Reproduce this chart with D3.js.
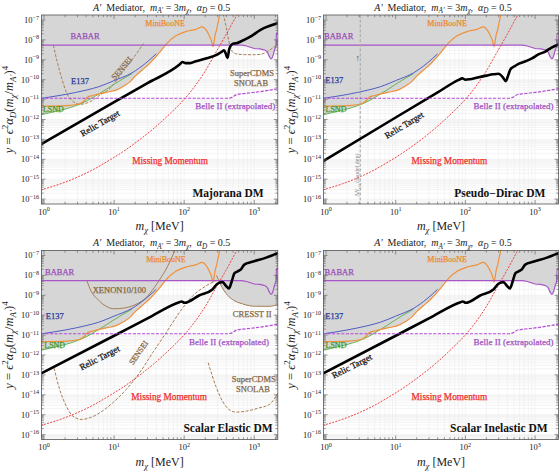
<!DOCTYPE html>
<html>
<head>
<meta charset="utf-8">
<script src="https://cdn.jsdelivr.net/npm/d3@7"></script>
<style>
  body { margin: 0; background: #fff; }
  svg { display: block; font-family: "Liberation Serif", "DejaVu Serif", serif; }
</style>
</head>
<body>
<script>
// ---- data (mass in MeV, y = eps^2 alpha_D (m_chi/m_A')^4) ----
const massTicks = [1, 10, 100, 1000];
const yTickPowers = [-7, -8, -9, -10, -11, -12, -13, -14, -15, -16];

const babar = [[0.9, 5.5e-9], [650, 5.5e-9], [800, 4.8e-9], [1000, 3.7e-9], [1200, 3.5e-9], [1400, 3.1e-9],
  [1550, 2.3e-9], [1650, 1.4e-9], [1750, 1.1e-9], [1850, 1.6e-9], [1950, 3.2e-9], [2050, 5.5e-9], [2070, 2.2e-8], [2300, 2.2e-8]];
const e137 = [[0.9, 1.15e-11], [2, 1.8e-11], [4, 3e-11], [6, 4.4e-11], [10, 9e-11], [18, 2.2e-10], [28, 6.6e-10], [40, 2e-9]];
const lsnd = [[0.9, 1.7e-12], [1.35, 2.4e-12], [2.1, 3.5e-12], [3.6, 6.9e-12], [6.2, 2e-11], [9.6, 5.4e-11], [15, 1.4e-10], [18, 2e-10]];
const miniboone = [[0.9, 4.7e-12], [2.1, 5.0e-12], [3.2, 6.0e-12], [3.8, 9e-12], [4.2, 1.35e-11], [5.0, 1.6e-11],
  [7.7, 2.3e-11], [10.7, 3.0e-11], [14, 5e-11], [17, 8e-11], [20, 1.5e-10], [25, 3e-10], [32, 6.5e-10], [44, 2.2e-9],
  [55, 6e-9], [76, 1.6e-8], [105, 2.6e-8], [146, 3.4e-8], [182, 4.5e-8], [205, 3.2e-8], [225, 1.8e-8], [245, 9e-9],
  [258, 4.6e-9], [265, 7e-9], [275, 1.6e-8], [292, 3.5e-8], [310, 1e-7], [330, 2.5e-7]];
const belle2 = [[0.9, 1.17e-11], [420, 1.17e-11], [480, 1.3e-11], [560, 1.8e-11], [700, 2.0e-11], [1000, 2.3e-11],
  [1500, 2.8e-11], [2200, 3.6e-11]];
const missingMomentum = [[0.9, 2.9e-16], [2, 7.1e-16], [3.16, 1.38e-15], [5, 3.0e-15], [7.9, 7.6e-15], [12.6, 2.1e-14],
  [23.4, 1e-13], [40, 4.6e-13], [63, 2.0e-12], [98, 9.5e-12], [126, 2.7e-11], [158, 7.9e-11], [200, 2.75e-10],
  [286, 2.5e-9], [400, 1.95e-8], [566, 1.8e-7], [650, 4e-7]];

const relicMajorana = [[0.9, 5.6e-14], [10, 7.4e-12], [30, 6.7e-11], [85, 5.6e-10], [95, 7.8e-10], [105, 6.8e-10],
  [120, 6.8e-10], [140, 7.9e-10], [210, 1.18e-9], [290, 1.75e-9], [345, 2.55e-9], [370, 3.0e-9], [395, 1.9e-9],
  [415, 1.25e-9], [440, 3.5e-9], [470, 5.5e-9], [510, 6.6e-9], [560, 6.8e-9], [630, 8.1e-9], [880, 1.45e-8],
  [1230, 3.2e-8], [2200, 7e-8]];
const relicPseudoDirac = [[0.9, 7.9e-15], [10, 1.26e-12], [40, 2.3e-11], [80, 9.8e-11], [90, 1.17e-10], [100, 1e-10],
  [115, 1.05e-10], [150, 1.3e-10], [200, 1.6e-10], [250, 1.86e-10], [300, 2e-10], [340, 1.4e-10], [380, 8.5e-11],
  [410, 1.6e-10], [440, 3.2e-10], [480, 4.2e-10], [520, 5e-10], [600, 6.6e-10], [700, 7.9e-10], [900, 1.17e-9],
  [1100, 1.8e-9], [1400, 2.6e-9], [1700, 4e-9], [2200, 6e-9]];
const relicScalar = [[0.9, 1.17e-13], [10, 9.3e-12], [30, 6.9e-11], [85, 4.5e-10], [92, 4.9e-10], [101, 4.2e-10],
  [163, 9.8e-10], [253, 1.95e-9], [298, 3.8e-9], [351, 4.6e-9], [391, 3.1e-9], [436, 2.2e-9], [478, 5.1e-9],
  [520, 1.26e-8], [580, 1.6e-8], [646, 2e-8], [721, 3.5e-8], [937, 4.8e-8], [1445, 7.6e-8], [2200, 1.35e-7]];

const senseiMajorana = [[1.36, 5.5e-9], [1.52, 9.8e-10], [1.79, 1.17e-10], [2.11, 2.1e-11], [2.62, 7.9e-12],
  [3.27, 5.8e-12], [4.54, 7.9e-12], [6.3, 1.7e-11], [8.8, 3.7e-11], [10.9, 9.5e-11], [15.1, 4.5e-10], [21, 2.1e-9],
  [26.2, 6.5e-9]];
const superCdmsMajorana = [[360, 2e-7], [400, 4e-8], [430, 1e-8], [460, 4e-9], [510, 2.2e-9], [600, 1.9e-9],
  [800, 1.8e-9], [1000, 1.8e-9], [1250, 1.9e-9], [1500, 2.5e-9], [1750, 3.5e-9], [2000, 5e-9], [2300, 7e-9]];
const senseiScalar = [[1.39, 2.2e-13], [1.67, 1.9e-14], [2.08, 2.7e-15], [2.58, 8.5e-16], [3.39, 5.8e-16],
  [4.46, 6.9e-16], [6.2, 1.23e-15], [9.6, 4e-15], [14.9, 1.86e-14], [23, 1.26e-13], [35.5, 1.29e-12],
  [55, 1.29e-11], [85, 1.32e-10], [131, 9.1e-10], [203, 2.9e-9], [285, 5.5e-9]];
const superCdmsScalar = [[220, 4.1e-13], [283, 2.7e-14], [352, 4.8e-15], [437, 1.8e-15], [545, 1.35e-15],
  [760, 1.5e-15], [1170, 2.2e-15], [1630, 3.2e-15], [2200, 1.3e-14]];
const xenon = [[4.08, 5.5e-9], [4.71, 1.6e-9], [5.85, 6.2e-10], [7.7, 2.8e-10], [10.1, 2.1e-10], [14, 2.3e-10],
  [20.5, 3.5e-10], [28.4, 7.4e-10], [37.3, 2.4e-9], [46.5, 7.6e-9], [55, 2e-8], [68, 9.3e-8], [75, 2e-7]];
const cresst = [[290, 1e-8], [314, 5.1e-9], [391, 1.3e-9], [487, 6.2e-10], [680, 3.7e-10], [1040, 2.8e-10],
  [1630, 2.8e-10], [2200, 3.5e-10]];

const neffMass = 3.1;

// ---- layout ----
const W = 560, H = 472;
const boxes = [
  { x0: 41.5, x1: 277.8, y0: 15, y1: 204 },
  { x0: 323.5, x1: 558.5, y0: 15, y1: 204 },
  { x0: 41.5, x1: 277.8, y0: 250.5, y1: 439.5 },
  { x0: 323.5, x1: 558.5, y0: 250.5, y1: 439.5 }
];
const xDomain = [0.921, 2167];
const yDomain = [5.68e-17, 1.78e-7];

const C = {
  fill: '#d6d6d6', babar: '#a855c8', belle: '#b44ad8', mini: '#f0913a', e137: '#3f4fbf', lsnd: '#5aae44',
  red: '#ee3030', brown: '#a57d55', babarTxt: '#9b4fb8', e137Txt: '#2b3a99', lsndTxt: '#3e9a2a',
  miniTxt: '#ec8a30', brownTxt: '#86663f', belleTxt: '#a24fc4'
};

const commonLabels = (p) => [
  { t: 'BABAR', m: p.babar, v: p.babarY, c: C.babarTxt, s: 8.5 },
  { t: 'MiniBooNE', m: p.mini, v: p.miniY, c: C.miniTxt, s: 8 },
  { t: 'E137', m: p.e137, v: p.e137Y, c: C.e137Txt, s: 8.5 },
  { t: 'LSND', m: p.lsnd, v: p.lsndY, c: C.lsndTxt, s: 8 },
  { t: 'Belle II (extrapolated)', m: p.belle, v: p.belleY, c: C.belleTxt, s: 9 },
  { t: 'Relic Target', m: p.relic, v: p.relicY, c: '#111', s: 9, r: p.relicRot },
  { t: 'Missing Momentum', m: p.mm, v: p.mmY, c: C.red, s: 9.3 }
];

const panels = [
  {
    name: 'Majorana DM', nameM: 423, relic: relicMajorana,
    labels: commonLabels({ babar: 3.85, babarY: 1.58e-8, mini: 53.5, miniY: 6.8e-8, e137: 3.27, e137Y: 8.9e-11,
      lsnd: 1.36, lsndY: 3.2e-12, belle: 535, belleY: 4.8e-12, relic: 6.3, relicY: 6.5e-13, relicRot: -30,
      mm: 63, mmY: 8.5e-15 }).concat([
      { t: 'SENSEI', m: 12.9, v: 3.7e-10, c: C.brownTxt, s: 8, r: -49 },
      { t: 'SuperCDMS', m: 930, v: 2.2e-10, c: C.brownTxt, s: 8.5 },
      { t: 'SNOLAB', m: 900, v: 6.6e-11, c: C.brownTxt, s: 8.5 }
    ]),
    dashed: [senseiMajorana, superCdmsMajorana], solid: []
  },
  {
    name: 'Pseudo\u2212Dirac DM', nameM: 312, relic: relicPseudoDirac,
    labels: commonLabels({ babar: 1.52, babarY: 1.58e-8, mini: 54.7, miniY: 6.8e-8, e137: 1.31, e137Y: 9.5e-11,
      lsnd: 1.39, lsndY: 3.2e-12, belle: 490, belleY: 4.8e-12, relic: 13.2, relicY: 5.2e-13, relicRot: -31,
      mm: 59, mmY: 8.5e-15 }),
    dashed: [], solid: [], neff: true
  },
  {
    name: 'Scalar Elastic DM', nameM: 423, relic: relicScalar,
    labels: commonLabels({ babar: 1.67, babarY: 1.45e-8, mini: 55, miniY: 6.3e-8, e137: 1.42, e137Y: 8.9e-11,
      lsnd: 1.42, lsndY: 3e-12, belle: 436, belleY: 4.4e-12, relic: 6.2, relicY: 7.2e-13, relicRot: -27,
      mm: 61, mmY: 7.9e-15 }).concat([
      { t: 'XENON10/100', m: 11.9, v: 1.95e-9, c: C.brownTxt, s: 8.5 },
      { t: 'CRESST II', m: 937, v: 1.1e-10, c: C.brownTxt, s: 8.5 },
      { t: 'SENSEI', m: 22.4, v: 1.3e-12, c: C.brownTxt, s: 8, r: -55 },
      { t: 'SuperCDMS', m: 985, v: 5.9e-14, c: C.brownTxt, s: 8.5 },
      { t: 'SNOLAB', m: 960, v: 1.86e-14, c: C.brownTxt, s: 8.5 }
    ]),
    dashed: [senseiScalar, superCdmsScalar], solid: [xenon, cresst]
  },
  {
    name: 'Scalar Inelastic DM', nameM: 302, relic: relicScalar,
    labels: commonLabels({ babar: 1.55, babarY: 1.45e-8, mini: 54.7, miniY: 6.3e-8, e137: 1.31, e137Y: 8.9e-11,
      lsnd: 1.39, lsndY: 3e-12, belle: 490, belleY: 4.4e-12, relic: 2.35, relicY: 2.75e-13, relicRot: -27,
      mm: 59, mmY: 7.9e-15 }),
    dashed: [], solid: []
  }
];

const svg = d3.select('body').append('svg').attr('width', W).attr('height', H);

// text with italic / sub / sup pieces
function rich(sel, parts, size) {
  let shift = 0;
  parts.forEach(p => {
    const target = p.sub ? size * 0.28 : p.sup ? -size * 0.4 : 0;
    sel.append('tspan')
      .attr('dy', target - shift)
      .attr('font-size', (p.sub || p.sup) ? size * 0.72 : size)
      .attr('font-style', p.i ? 'italic' : 'normal')
      .text(p.t);
    shift = target;
  });
  return sel;
}

panels.forEach((p, i) => {
  const b = boxes[i];
  const x = d3.scaleLog().domain(xDomain).range([b.x0, b.x1]);
  const y = d3.scaleLog().domain(yDomain).range([b.y1, b.y0]);
  const g = svg.append('g');

  const clipId = 'clip' + i;
  svg.append('clipPath').attr('id', clipId).append('rect')
    .attr('x', b.x0).attr('y', b.y0).attr('width', b.x1 - b.x0).attr('height', b.y1 - b.y0);
  const plot = g.append('g').attr('clip-path', `url(#${clipId})`);

  // minor grid
  const gx = [], gy = [];
  for (let d = -1; d <= 3; d++) for (let k = 1; k <= 9; k++) {
    const v = k * Math.pow(10, d);
    if (v > xDomain[0] && v < xDomain[1]) gx.push({ v, major: k === 1 });
  }
  for (let d = -17; d <= -7; d++) for (let k = 1; k <= 9; k++) {
    const v = k * Math.pow(10, d);
    if (v > yDomain[0] && v < yDomain[1]) gy.push({ v, major: k === 1 });
  }
  plot.append('g').selectAll('line').data(gx).enter().append('line')
    .attr('x1', d => x(d.v)).attr('x2', d => x(d.v)).attr('y1', b.y0).attr('y2', b.y1)
    .attr('stroke', '#ececec').attr('stroke-width', 0.6);
  plot.append('g').selectAll('line').data(gy).enter().append('line')
    .attr('y1', d => y(d.v)).attr('y2', d => y(d.v)).attr('x1', b.x0).attr('x2', b.x1)
    .attr('stroke', '#ececec').attr('stroke-width', 0.6);

  const line = d3.line().x(d => x(d[0])).y(d => y(d[1])).curve(d3.curveMonotoneX);
  const area = d3.area().x(d => x(d[0])).y0(b.y0 - 5).y1(d => y(d[1])).curve(d3.curveMonotoneX);

  // excluded region
  [babar, e137, lsnd, miniboone].concat(p.solid).forEach(c => {
    plot.append('path').attr('d', area(c)).attr('fill', C.fill);
  });

  const draw = (c, color, w, dash) => plot.append('path').attr('d', line(c))
    .attr('fill', 'none').attr('stroke', color).attr('stroke-width', w)
    .attr('stroke-dasharray', dash || null);

  p.solid.forEach(c => draw(c, C.brown, 1));
  p.dashed.forEach(c => draw(c, C.brown, 1, '3,1.6'));
  draw(lsnd, C.lsnd, 0.9);
  draw(e137, C.e137, 0.9);
  draw(miniboone, C.mini, 1.2);
  draw(babar, C.babar, 1.2);
  draw(missingMomentum, C.red, 0.9, '2,1.3');

  if (p.neff) {
    plot.append('line').attr('x1', x(neffMass)).attr('x2', x(neffMass)).attr('y1', b.y0).attr('y2', b.y1)
      .attr('stroke', '#a8a8a8').attr('stroke-width', 1.1).attr('stroke-dasharray', '3,1.8');
    plot.append('text').attr('x', x(neffMass) - 2.5).attr('y', y(1.17e-9))
      .attr('text-anchor', 'middle').attr('dominant-baseline', 'central')
      .attr('font-size', 9).attr('fill', '#555').text('\u2191');
    const t = plot.append('text')
      .attr('transform', `translate(${x(neffMass) - 3.2},${y(1.6e-15)}) rotate(-90)`)
      .attr('text-anchor', 'middle').attr('dominant-baseline', 'central').attr('fill', '#888');
    rich(t, [{ t: '\u0394' }, { t: 'N', i: 1 }, { t: 'eff', sub: 1 }, { t: ' (model dep)' }], 6);
  }

  draw(p.relic, '#000', 2.6);
  draw(belle2, C.belle, 1.2, '3.2,1.4');

  // labels
  p.labels.forEach(l => {
    plot.append('text')
      .attr('transform', `translate(${x(l.m)},${y(l.v)})` + (l.r ? ` rotate(${l.r})` : ''))
      .attr('text-anchor', 'middle').attr('dominant-baseline', 'central')
      .attr('font-size', l.s).attr('fill', l.c)
      .attr('stroke', l.c).attr('stroke-width', 0.25)
      .text(l.t);
  });
  plot.append('text').attr('x', x(p.nameM)).attr('y', y(2.1e-16))
    .attr('text-anchor', 'middle').attr('dominant-baseline', 'central')
    .attr('font-size', 11.5).attr('font-weight', 'bold').attr('fill', '#111').text(p.name);

  // frame and inward ticks
  g.append('rect').attr('x', b.x0).attr('y', b.y0).attr('width', b.x1 - b.x0).attr('height', b.y1 - b.y0)
    .attr('fill', 'none').attr('stroke', '#555').attr('stroke-width', 0.8);
  const tk = g.append('g').attr('stroke', '#555').attr('stroke-width', 0.6);
  gx.forEach(d => {
    const len = d.major ? 4 : 2.2;
    tk.append('line').attr('x1', x(d.v)).attr('x2', x(d.v)).attr('y1', b.y1).attr('y2', b.y1 - len);
    tk.append('line').attr('x1', x(d.v)).attr('x2', x(d.v)).attr('y1', b.y0).attr('y2', b.y0 + len);
  });
  gy.forEach(d => {
    const len = d.major ? 4 : 2.2;
    tk.append('line').attr('y1', y(d.v)).attr('y2', y(d.v)).attr('x1', b.x0).attr('x2', b.x0 + len);
    tk.append('line').attr('y1', y(d.v)).attr('y2', y(d.v)).attr('x1', b.x1).attr('x2', b.x1 - len);
  });

  // tick labels
  massTicks.forEach((m, k) => {
    rich(g.append('text').attr('x', x(m)).attr('y', b.y1 + 10.5).attr('text-anchor', 'middle').attr('fill', '#222'),
      [{ t: '10' }, { t: String(k), sup: 1 }], 8.5);
  });
  yTickPowers.forEach(e => {
    rich(g.append('text').attr('x', b.x0 - 2.5).attr('y', y(Math.pow(10, e)) + 3).attr('text-anchor', 'end').attr('fill', '#222'),
      [{ t: '10' }, { t: '\u2212' + String(-e), sup: 1 }], 8.5);
  });

  // title and axis titles
  const cx = (b.x0 + b.x1) / 2;
  rich(g.append('text').attr('x', cx + 2).attr('y', b.y0 - 4.5).attr('text-anchor', 'middle')
    .style('white-space', 'pre').attr('fill', '#222'),
    [{ t: 'A\u2032', i: 1 }, { t: '  Mediator,  ' }, { t: 'm', i: 1 }, { t: 'A\u2032', i: 1, sub: 1 }, { t: ' = 3' },
     { t: 'm', i: 1 }, { t: '\u03c7', i: 1, sub: 1 }, { t: ',  ' }, { t: '\u03b1', i: 1 }, { t: 'D', i: 1, sub: 1 },
     { t: ' = 0.5' }], 10);
  rich(g.append('text').attr('x', cx).attr('y', b.y1 + 26).attr('text-anchor', 'middle')
    .style('white-space', 'pre').attr('fill', '#222'),
    [{ t: 'm', i: 1 }, { t: '\u03c7', i: 1, sub: 1 }, { t: ' [MeV]' }], 12);
  rich(g.append('text').attr('transform', `translate(${b.x0 - 29},${(b.y0 + b.y1) / 2}) rotate(-90)`)
    .attr('text-anchor', 'middle').style('white-space', 'pre').attr('fill', '#222'),
    [{ t: 'y', i: 1 }, { t: ' = ' }, { t: '\u03f5', i: 1 }, { t: '2', sup: 1 }, { t: '\u03b1', i: 1 },
     { t: 'D', i: 1, sub: 1 }, { t: '(' }, { t: 'm', i: 1 }, { t: '\u03c7', i: 1, sub: 1 }, { t: '/' },
     { t: 'm', i: 1 }, { t: 'A\u2032', i: 1, sub: 1 }, { t: ')' }, { t: '4', sup: 1 }], 12.5);
});
</script>
</body>
</html>
